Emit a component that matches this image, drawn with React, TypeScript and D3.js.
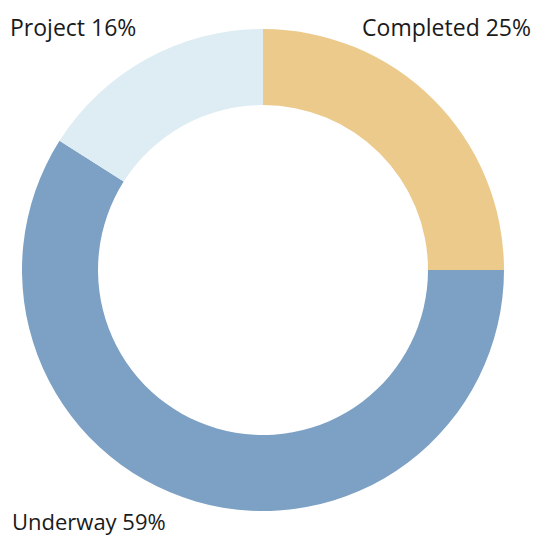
import React from 'react';
import * as d3 from 'd3';

const width = 535, height = 537;

// shares of the projects, clockwise from 12 o'clock
const labels = ['Completed', 'Underway', 'Project'];
const shares = [25, 59, 16];
const colors = ['#ebca8c', '#7da1c4', '#deedf3'];

const cx = 263, cy = 270;
const outerR = 241, innerR = 165;

export default function App() {
    // pie layout without sorting so order stays as given
    const pie = d3.pie<number>().sort(null).value(d => d);
    const arc = d3.arc<d3.PieArcDatum<number>>().innerRadius(innerR).outerRadius(outerR);
    const arcs = pie(shares);

    return (
        <svg width={width} height={height} style={{ position: 'absolute', left: 0, top: 0 }}
            fontFamily="'Open Sans', 'DejaVu Sans', sans-serif">
            <g transform={`translate(${cx},${cy})`}>
                {arcs.map((a, i) => (
                    <path key={labels[i]} d={arc(a) || ''} fill={colors[i]} />
                ))}
            </g>
            <text x={531} y={36} textAnchor="end" fontSize={23} fill="#1a1a1a">
                {`${labels[0]} ${shares[0]}%`}
            </text>
            <text x={12} y={530} fontSize={22} fill="#1a1a1a">
                {`${labels[1]} ${shares[1]}%`}
            </text>
            <text x={10} y={36} fontSize={23} fill="#1a1a1a">
                {`${labels[2]} ${shares[2]}%`}
            </text>
        </svg>
    );
}
